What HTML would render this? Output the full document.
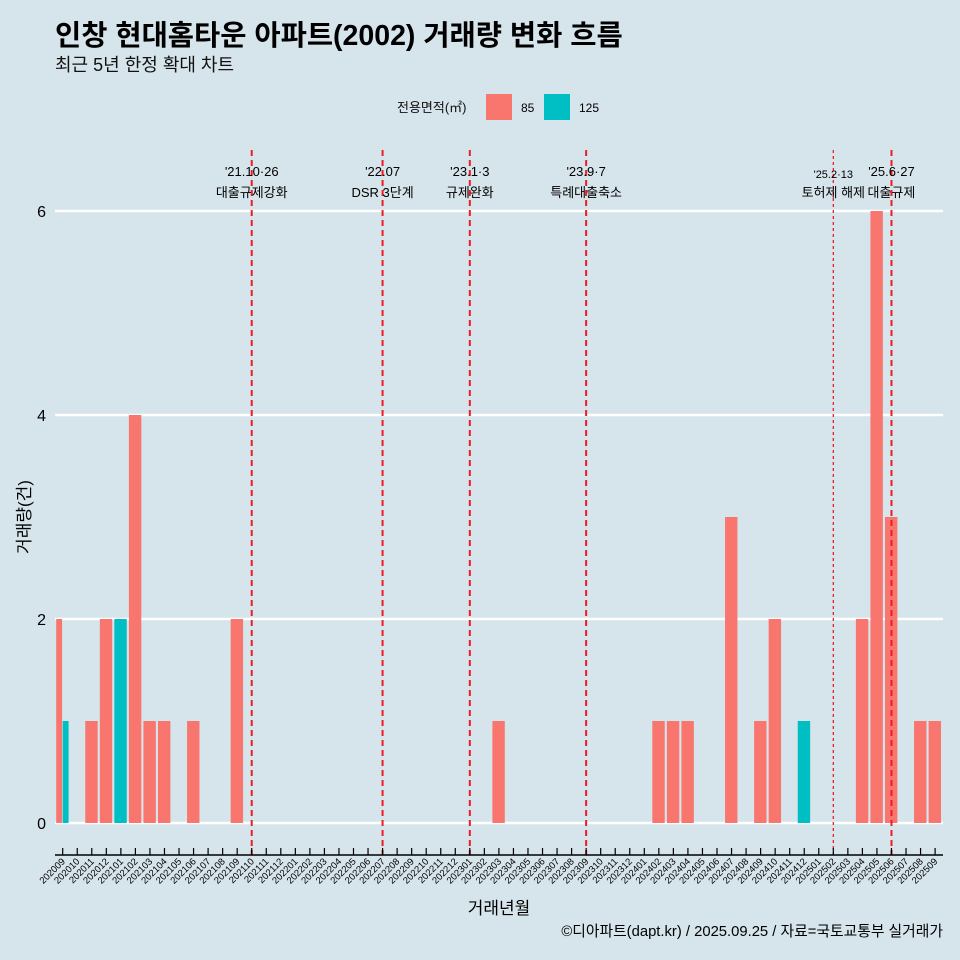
<!DOCTYPE html>
<html><head><meta charset="utf-8"><style>
body{margin:0;background:#d6e4eb;}
svg{display:block;font-family:"Liberation Sans","Noto Sans CJK KR",sans-serif;}
</style></head><body>
<svg id="c" width="960" height="960" viewBox="0 0 960 960">
<rect x="0" y="0" width="960" height="960" fill="#d6e4eb"/>
<text x="55" y="45" font-size="28.5" font-weight="bold" fill="#000">인창 현대홈타운 아파트(2002) 거래량 변화 흐름</text>
<text x="55" y="71" font-size="18" fill="#111">최근 5년 한정 확대 차트</text>
<g>
<text x="397" y="112" font-size="13" fill="#111">전용면적(㎡)</text>
<rect x="486" y="94" width="26" height="26" fill="#f8766d"/>
<text x="521" y="112" font-size="12">85</text>
<rect x="544" y="94" width="26" height="26" fill="#00bfc4"/>
<text x="579" y="112" font-size="12">125</text>
</g>
<g id="grid"></g><g id="bars"></g><g id="vlines"></g><g id="axes"></g>
<text x="30" y="517" font-size="17" transform="rotate(-90 30 517)" text-anchor="middle">거래량(건)</text>
<text x="499" y="914" font-size="17" text-anchor="middle">거래년월</text>
<text x="943" y="936" font-size="14.8" text-anchor="end">©디아파트(dapt.kr) / 2025.09.25 / 자료=국토교통부 실거래가</text>
</svg>
<script>
const months=[];
for(let y=2020,m=9;!(y===2025&&m===10);){months.push(''+y+(m<10?'0':'')+m);m++;if(m>12){m=1;y++;}}
const s85Months=['202009','202011','202012','202102','202103','202104','202106','202109','202303','202402','202403','202404','202407','202409','202410','202504','202505','202506','202508','202509'];
const s85Values=[2,1,2,4,1,1,1,2,1,1,1,1,3,1,2,2,6,3,1,1];
const s125Months=['202009','202101','202412'];
const s125Values=[1,2,1];
const yTicks=[0,2,4,6];
const eventMonths=['202110','202207','202301','202309','202502','202506'];
const eventLine1=["'21.10·26","'22.07","'23.1·3","'23.9·7","'25.2·13","'25.6·27"];
const eventLine2=['대출규제강화','DSR 3단계','규제완화','특례대출축소','토허제 해제','대출규제'];
const NS='http://www.w3.org/2000/svg';
const x=i=>62.7+i*14.54;
const y=v=>823-v*102;
const bw=13;
function mk(t,a,p){const e=document.createElementNS(NS,t);for(const k in a)e.setAttribute(k,a[k]);document.getElementById(p).appendChild(e);return e;}
yTicks.forEach(v=>{
 const l=mk('line',{x1:55,x2:943,y1:y(v),y2:y(v),stroke:'#fff','stroke-width':2.5},'grid');
 
 
 const t=mk('text',{x:46,y:y(v)+6,'font-size':16,'text-anchor':'end'},'axes');t.textContent=v;
 
 
});
function drawSeries(ms,vs,other,color,side,name){
 ms.forEach((m,k)=>{
  const i=months.indexOf(m);const both=other.includes(m);
  let x0=x(i)-bw/2,w=bw;
  if(both){w=bw/2;x0=side===0?x(i)-bw/2:x(i);}
  const r=mk('rect',{x:x0,y:y(vs[k]),width:w-0.6,height:y(0)-y(vs[k]),fill:color},'bars');
  
  
 });
}
drawSeries(s85Months,s85Values,s125Months,'#f8766d',0,'85');
drawSeries(s125Months,s125Values,s85Months,'#00bfc4',1,'125');
eventMonths.forEach((m,k)=>{
 const xi=x(months.indexOf(m));const thin=m==='202502';
 const l=mk('line',{x1:xi,x2:xi,y1:150,y2:855,stroke:'#ee1c25','stroke-width':thin?1.3:2,'stroke-dasharray':thin?'3,3':'6,4'},'vlines');
 
 
 const t1=mk('text',{x:xi,y:thin?178:176,'font-size':thin?11:13,'text-anchor':'middle'},'vlines');t1.textContent=eventLine1[k];
 
 
 const t2=mk('text',{x:xi,y:197,'font-size':13,'text-anchor':'middle'},'vlines');t2.textContent=eventLine2[k];
 
 
});
const ax=mk('line',{x1:55,x2:943,y1:855,y2:855,stroke:'#000','stroke-width':1.5},'axes');


months.forEach((m,i)=>{
 const tk=mk('line',{x1:x(i),x2:x(i),y1:848,y2:855,stroke:'#000','stroke-width':1.2},'axes');
 
 
 const t=mk('text',{x:x(i)+3,y:862,'font-size':9.5,'text-anchor':'end',transform:'rotate(-45 '+(x(i)+3)+' 862)'},'axes');t.textContent=m;
 
 
});
</script>
</body></html>
